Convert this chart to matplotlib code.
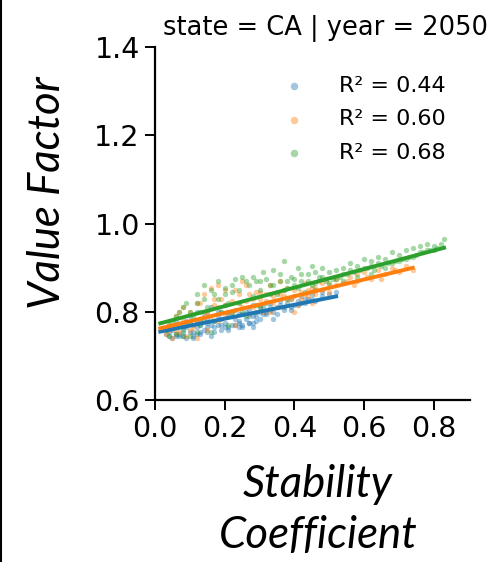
import numpy as np
import matplotlib
matplotlib.use("Agg")
import matplotlib.pyplot as plt
from matplotlib.lines import Line2D

# ---------------- data ----------------
blue_x = [0.04, 0.05, 0.06, 0.07, 0.08, 0.09, 0.10, 0.10, 0.11, 0.12, 0.12, 0.13, 0.14, 0.15, 0.15, 0.16,
          0.17, 0.18, 0.19, 0.20, 0.20, 0.21, 0.22, 0.23, 0.24, 0.25, 0.26, 0.27, 0.28, 0.28, 0.29, 0.30,
          0.31, 0.32, 0.33, 0.34, 0.35, 0.36, 0.37, 0.38, 0.39, 0.40, 0.41, 0.42, 0.43, 0.44, 0.45, 0.46,
          0.48, 0.50, 0.52, 0.06, 0.08, 0.14, 0.18, 0.22, 0.26, 0.30, 0.34, 0.11, 0.16, 0.24,
          0.05, 0.07, 0.09, 0.11, 0.13, 0.15, 0.17, 0.19, 0.21, 0.23, 0.25, 0.27, 0.29, 0.31, 0.33, 0.35,
          0.37, 0.39, 0.41, 0.43, 0.06, 0.09, 0.12, 0.15, 0.18, 0.21, 0.24, 0.27, 0.30, 0.33, 0.36, 0.39,
          0.42, 0.45, 0.48, 0.04, 0.13, 0.19, 0.28, 0.32,
          0.03, 0.05, 0.07, 0.09, 0.11, 0.13, 0.15, 0.17, 0.19, 0.21, 0.23, 0.25, 0.27, 0.29, 0.08, 0.12,
          0.16, 0.20, 0.24, 0.28]
blue_y = [0.745, 0.76, 0.75, 0.77, 0.745, 0.78, 0.755, 0.79, 0.77, 0.80, 0.75, 0.785, 0.76, 0.80, 0.775, 0.81,
          0.765, 0.79, 0.80, 0.775, 0.815, 0.76, 0.79, 0.805, 0.78, 0.77, 0.80, 0.79, 0.815, 0.775, 0.80, 0.785,
          0.81, 0.795, 0.82, 0.80, 0.81, 0.825, 0.805, 0.82, 0.83, 0.815, 0.825, 0.835, 0.82, 0.83, 0.84, 0.825,
          0.835, 0.84, 0.845, 0.78, 0.765, 0.79, 0.77, 0.77, 0.785, 0.80, 0.785, 0.74, 0.745, 0.765,
          0.765, 0.75, 0.765, 0.755, 0.77, 0.785, 0.78, 0.77, 0.79, 0.785, 0.795, 0.775, 0.79, 0.795, 0.805, 0.795,
          0.81, 0.805, 0.815, 0.83, 0.745, 0.77, 0.775, 0.765, 0.80, 0.80, 0.795, 0.805, 0.81, 0.81, 0.815, 0.81,
          0.82, 0.83, 0.845, 0.755, 0.755, 0.785, 0.79, 0.80,
          0.75, 0.74, 0.745, 0.74, 0.745, 0.75, 0.755, 0.755, 0.76, 0.765, 0.77, 0.765, 0.775, 0.78, 0.755, 0.765,
          0.77, 0.765, 0.775, 0.765]

orange_x = [0.03, 0.04, 0.05, 0.06, 0.07, 0.08, 0.09, 0.10, 0.11, 0.12, 0.13, 0.14, 0.15, 0.15, 0.16, 0.17,
            0.18, 0.19, 0.20, 0.21, 0.22, 0.23, 0.24, 0.25, 0.26, 0.27, 0.28, 0.29, 0.30, 0.31, 0.32, 0.33,
            0.34, 0.35, 0.36, 0.37, 0.38, 0.39, 0.40, 0.41, 0.42, 0.43, 0.44, 0.45, 0.46, 0.47, 0.48, 0.50,
            0.52, 0.54, 0.56, 0.58, 0.60, 0.62, 0.64, 0.66, 0.68, 0.70, 0.72, 0.74, 0.10, 0.20, 0.30, 0.40,
            0.08, 0.18, 0.25, 0.36, 0.45, 0.12,
            0.04, 0.06, 0.08, 0.10, 0.12, 0.14, 0.16, 0.18, 0.20, 0.22, 0.24, 0.26, 0.28, 0.30, 0.32, 0.34,
            0.36, 0.38, 0.40, 0.42, 0.44, 0.46, 0.48, 0.50, 0.52, 0.55, 0.58, 0.61, 0.65, 0.69, 0.07, 0.13,
            0.17, 0.23, 0.27, 0.33, 0.37, 0.43, 0.49, 0.57]
orange_y = [0.75, 0.77, 0.74, 0.79, 0.755, 0.78, 0.745, 0.80, 0.765, 0.82, 0.785, 0.84, 0.80, 0.76, 0.855, 0.815,
            0.78, 0.83, 0.85, 0.80, 0.825, 0.77, 0.84, 0.81, 0.86, 0.795, 0.83, 0.845, 0.815, 0.80, 0.84, 0.86,
            0.82, 0.845, 0.81, 0.835, 0.855, 0.83, 0.85, 0.815, 0.845, 0.865, 0.835, 0.855, 0.84, 0.87, 0.85, 0.86,
            0.875, 0.865, 0.88, 0.87, 0.89, 0.875, 0.895, 0.885, 0.90, 0.89, 0.905, 0.895, 0.76, 0.79, 0.83, 0.80,
            0.81, 0.86, 0.87, 0.87, 0.82, 0.74,
            0.76, 0.755, 0.77, 0.775, 0.78, 0.80, 0.79, 0.81, 0.815, 0.80, 0.82, 0.825, 0.81, 0.845, 0.825, 0.835,
            0.84, 0.83, 0.835, 0.83, 0.85, 0.855, 0.865, 0.845, 0.86, 0.87, 0.885, 0.88, 0.875, 0.895, 0.80, 0.82,
            0.83, 0.85, 0.84, 0.80, 0.85, 0.84, 0.875, 0.86]

green_x = [0.03, 0.04, 0.05, 0.06, 0.07, 0.08, 0.09, 0.10, 0.11, 0.12, 0.13, 0.14, 0.15, 0.16, 0.17, 0.18,
           0.19, 0.20, 0.21, 0.22, 0.23, 0.24, 0.25, 0.26, 0.27, 0.28, 0.29, 0.30, 0.31, 0.32, 0.33, 0.34,
           0.35, 0.36, 0.37, 0.38, 0.39, 0.40, 0.41, 0.42, 0.43, 0.44, 0.45, 0.46, 0.47, 0.48, 0.49, 0.50,
           0.51, 0.52, 0.53, 0.54, 0.55, 0.56, 0.57, 0.58, 0.59, 0.60, 0.61, 0.62, 0.63, 0.64, 0.65, 0.66,
           0.67, 0.68, 0.69, 0.70, 0.71, 0.72, 0.73, 0.74, 0.75, 0.76, 0.77, 0.78, 0.79, 0.80, 0.82, 0.83,
           0.06, 0.14, 0.22, 0.30, 0.38, 0.46, 0.54, 0.62, 0.12, 0.08,
           0.04, 0.06, 0.08, 0.10, 0.12, 0.14, 0.16, 0.18, 0.20, 0.22, 0.24, 0.26, 0.28, 0.30, 0.32, 0.34,
           0.36, 0.38, 0.40, 0.42, 0.44, 0.46, 0.48, 0.50, 0.52, 0.54, 0.56, 0.58, 0.60, 0.62, 0.64, 0.66,
           0.68, 0.70, 0.72, 0.74, 0.76, 0.78, 0.80, 0.81, 0.10, 0.13, 0.17, 0.21, 0.25, 0.29, 0.33, 0.37,
           0.41, 0.45]
green_y = [0.76, 0.745, 0.78, 0.75, 0.80, 0.76, 0.82, 0.745, 0.79, 0.84, 0.77, 0.86, 0.81, 0.755, 0.84, 0.87,
           0.80, 0.855, 0.77, 0.845, 0.875, 0.82, 0.88, 0.79, 0.86, 0.835, 0.87, 0.85, 0.89, 0.82, 0.86, 0.895,
           0.84, 0.87, 0.915, 0.855, 0.88, 0.86, 0.90, 0.87, 0.845, 0.885, 0.905, 0.865, 0.88, 0.90, 0.87, 0.89,
           0.875, 0.895, 0.88, 0.90, 0.885, 0.91, 0.89, 0.905, 0.895, 0.92, 0.90, 0.915, 0.895, 0.925, 0.905, 0.92,
           0.91, 0.935, 0.915, 0.93, 0.92, 0.94, 0.925, 0.945, 0.93, 0.95, 0.935, 0.955, 0.94, 0.95, 0.955, 0.965,
           0.77, 0.78, 0.80, 0.81, 0.83, 0.85, 0.87, 0.885, 0.755, 0.745,
           0.77, 0.79, 0.81, 0.80, 0.82, 0.83, 0.85, 0.83, 0.84, 0.86, 0.85, 0.87, 0.88, 0.87, 0.875, 0.86,
           0.885, 0.87, 0.875, 0.885, 0.87, 0.89, 0.88, 0.865, 0.875, 0.885, 0.895, 0.88, 0.90, 0.905, 0.91, 0.90,
           0.91, 0.915, 0.92, 0.925, 0.935, 0.94, 0.94, 0.945, 0.775, 0.80, 0.78, 0.82, 0.80, 0.815, 0.84, 0.85,
           0.855, 0.86]

# fitted regression lines (slope, intercept)
fit_slope = [0.158, 0.189, 0.210]
fit_intercept = [0.753, 0.760, 0.771]
r2_labels = ["R\u00b2 = 0.44", "R\u00b2 = 0.60", "R\u00b2 = 0.68"]

colors = ["#1f77b4", "#ff7f0e", "#2ca02c"]
series = [(blue_x, blue_y), (orange_x, orange_y), (green_x, green_y)]

# ---------------- figure ----------------
fig = plt.figure(figsize=(4.97, 5.62), dpi=100)
ax = fig.add_axes([0.312, 0.288, 0.634, 0.628])

for (xs, ys), c, lab in zip(series, colors, r2_labels):
    ax.scatter(xs, ys, s=15, color=c, alpha=0.42, linewidths=0, label=lab)

for (xs, ys), c, m, b in zip(series, colors, fit_slope, fit_intercept):
    xr = np.array([min(xs) - 0.015, max(xs)])
    ax.plot(xr, m * xr + b, color=c, lw=2.8)

ax.set_xlim(0, 0.905)
ax.set_ylim(0.6, 1.4)
ax.set_xticks([0.0, 0.2, 0.4, 0.6, 0.8])
ax.set_yticks([0.6, 0.8, 1.0, 1.2, 1.4])
ax.tick_params(labelsize=20.5, length=7, width=1.4, colors="black", pad=4)
for sp in ["top", "right"]:
    ax.spines[sp].set_visible(False)
for sp in ["left", "bottom"]:
    ax.spines[sp].set_linewidth(1.6)

ax.set_title("state = CA | year = 2050", fontsize=18.5, x=0.54, pad=9)

lab_font = dict(family="Lato", style="italic", fontsize=31.5)
ax.set_ylabel("Value Factor", **lab_font)
ax.yaxis.set_label_coords(-0.275, 0.589)
ax.set_xlabel("Stability\nCoefficient", linespacing=1.3, **lab_font)
ax.xaxis.set_label_coords(0.517, -0.18)
ax.xaxis.label.set_va("top")

leg = ax.legend(loc="upper right", bbox_to_anchor=(0.985, 0.975), frameon=False,
                fontsize=16, handletextpad=1.0, markerscale=1.4, labelspacing=0.6)

fig.add_artist(Line2D([0.003, 0.003], [0, 1], transform=fig.transFigure, color="black", lw=1.5))

fig.savefig("out.png", dpi=100)
